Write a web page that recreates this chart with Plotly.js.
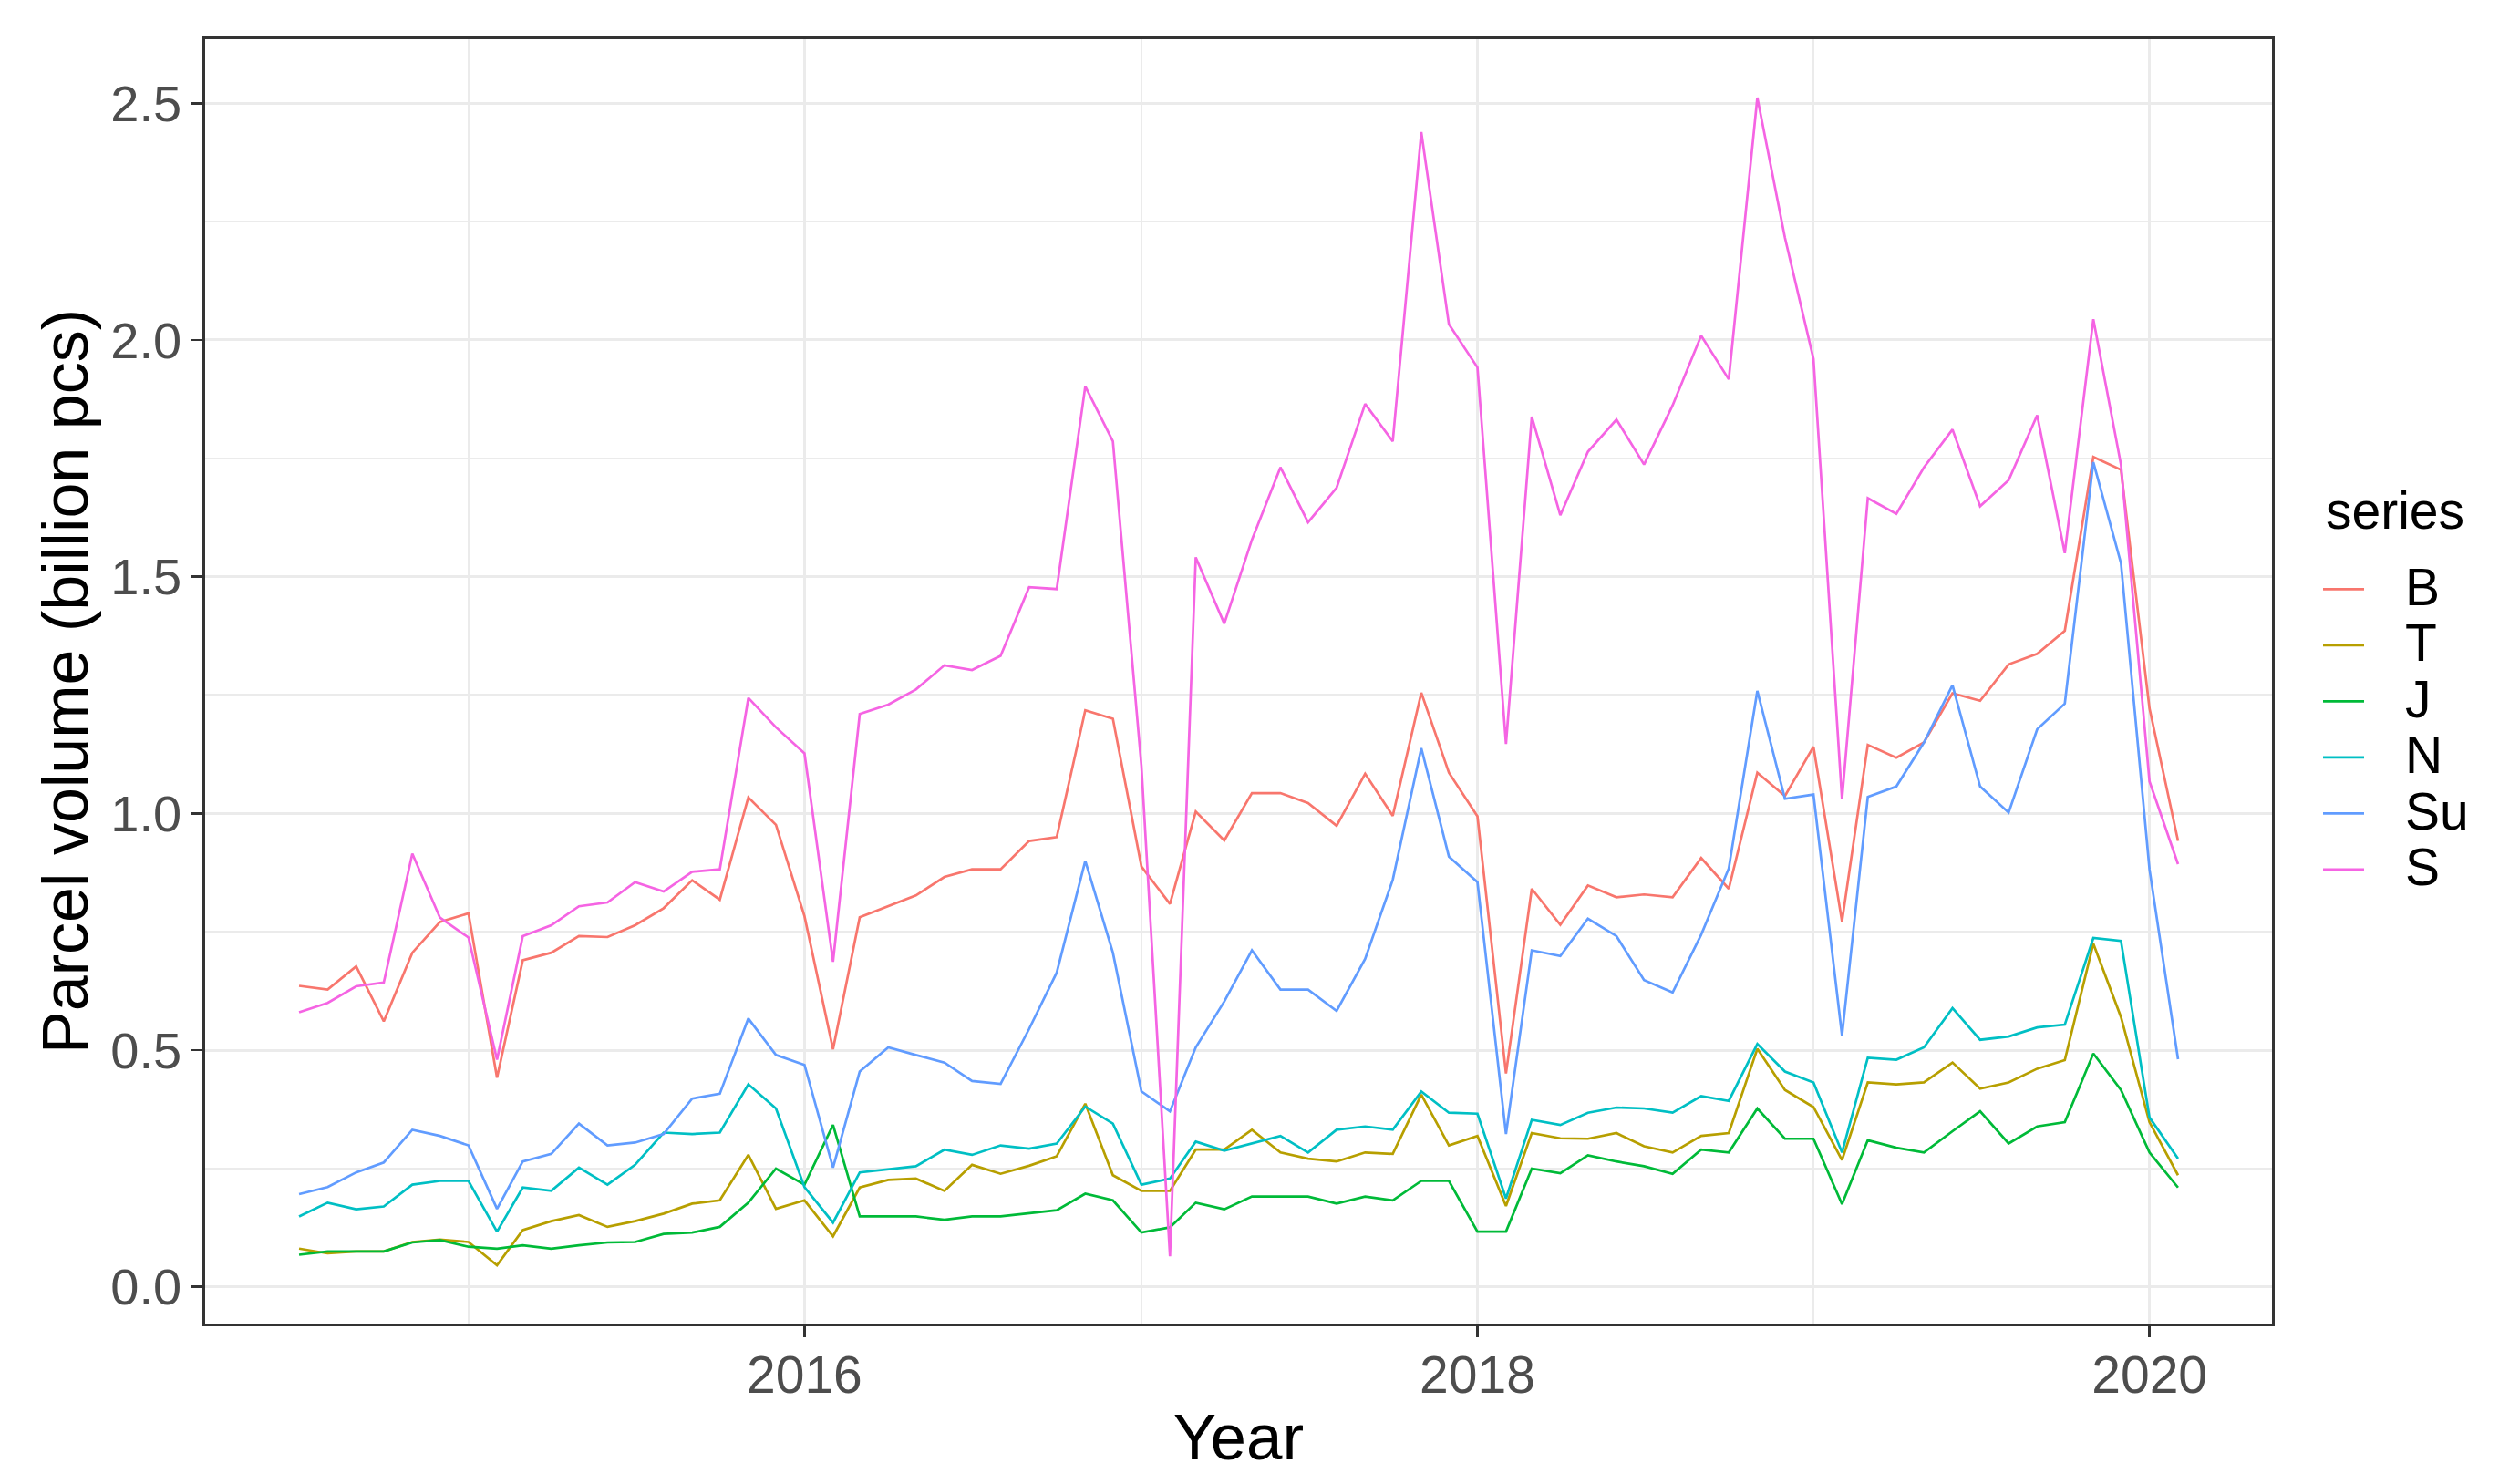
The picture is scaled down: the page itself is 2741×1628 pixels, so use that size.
<!DOCTYPE html>
<html>
<head>
<meta charset="utf-8">
<script src="https://cdn.plot.ly/plotly-3.0.1.min.js"></script>
<style>
html, body { margin: 0; padding: 0; background: #ffffff; }
#chart { width: 2741px; height: 1628px; }
</style>
</head>
<body>
<div id="chart"></div>
<script>
// ---- data (monthly, billion pcs) ----
const months = [
  "2014-07-01","2014-08-01","2014-09-01","2014-10-01","2014-11-01","2014-12-01",
  "2015-01-01","2015-02-01","2015-03-01","2015-04-01","2015-05-01","2015-06-01",
  "2015-07-01","2015-08-01","2015-09-01","2015-10-01","2015-11-01","2015-12-01",
  "2016-01-01","2016-02-01","2016-03-01","2016-04-01","2016-05-01","2016-06-01",
  "2016-07-01","2016-08-01","2016-09-01","2016-10-01","2016-11-01","2016-12-01",
  "2017-01-01","2017-02-01","2017-03-01","2017-04-01","2017-05-01","2017-06-01",
  "2017-07-01","2017-08-01","2017-09-01","2017-10-01","2017-11-01","2017-12-01",
  "2018-01-01","2018-02-01","2018-03-01","2018-04-01","2018-05-01","2018-06-01",
  "2018-07-01","2018-08-01","2018-09-01","2018-10-01","2018-11-01","2018-12-01",
  "2019-01-01","2019-02-01","2019-03-01","2019-04-01","2019-05-01","2019-06-01",
  "2019-07-01","2019-08-01","2019-09-01","2019-10-01","2019-11-01","2019-12-01",
  "2020-01-01","2020-02-01"
];

const seriesNames = ["B", "T", "J", "N", "Su", "S"];

const B = [0.636,0.628,0.677,0.561,0.706,0.771,
  0.789,0.442,0.690,0.706,0.741,0.739,0.764,0.800,0.859,0.818,1.034,0.976,
  0.783,0.502,0.781,0.804,0.827,0.866,0.882,0.882,0.942,0.950,1.218,1.200,
  0.888,0.809,1.004,0.943,1.043,1.043,1.022,0.974,1.084,0.995,1.255,1.086,
  0.994,0.451,0.841,0.765,0.848,0.823,0.829,0.823,0.906,0.841,1.086,1.037,
  1.141,0.772,1.145,1.118,1.150,1.254,1.238,1.315,1.337,1.386,1.753,1.726,
  1.222,0.942];

const T = [0.081,0.071,0.075,0.075,0.095,0.100,
  0.095,0.046,0.120,0.139,0.152,0.127,0.139,0.155,0.176,0.183,0.279,0.165,
  0.183,0.107,0.210,0.226,0.229,0.203,0.258,0.239,0.256,0.276,0.387,0.236,
  0.203,0.203,0.290,0.290,0.332,0.284,0.271,0.265,0.284,0.281,0.406,0.299,
  0.319,0.171,0.325,0.314,0.313,0.325,0.297,0.284,0.319,0.325,0.503,0.416,
  0.380,0.268,0.432,0.428,0.432,0.474,0.419,0.432,0.461,0.479,0.725,0.570,
  0.348,0.236];

const J = [0.068,0.075,0.075,0.075,0.094,0.099,
  0.085,0.081,0.088,0.081,0.088,0.094,0.095,0.112,0.115,0.127,0.178,0.250,
  0.216,0.342,0.149,0.149,0.149,0.142,0.149,0.149,0.155,0.162,0.197,0.183,
  0.115,0.126,0.178,0.164,0.191,0.191,0.191,0.176,0.191,0.183,0.224,0.224,
  0.117,0.117,0.250,0.240,0.278,0.265,0.255,0.239,0.290,0.284,0.377,0.313,
  0.313,0.175,0.310,0.294,0.284,0.329,0.371,0.303,0.339,0.348,0.493,0.416,
  0.284,0.210];

const N = [0.149,0.178,0.164,0.170,0.216,0.224,
  0.224,0.117,0.210,0.203,0.252,0.216,0.258,0.326,0.323,0.326,0.428,0.377,
  0.211,0.136,0.242,0.249,0.255,0.290,0.279,0.299,0.292,0.303,0.381,0.345,
  0.216,0.229,0.307,0.288,0.303,0.319,0.284,0.332,0.339,0.332,0.413,0.368,
  0.366,0.187,0.353,0.342,0.368,0.379,0.377,0.368,0.403,0.393,0.513,0.455,
  0.432,0.284,0.484,0.480,0.506,0.589,0.522,0.529,0.548,0.554,0.737,0.731,
  0.358,0.271];

const Su = [0.196,0.211,0.242,0.263,0.332,0.319,
  0.299,0.165,0.265,0.281,0.345,0.299,0.305,0.323,0.398,0.408,0.567,0.490,
  0.469,0.252,0.455,0.506,0.490,0.474,0.435,0.429,0.545,0.664,0.900,0.706,
  0.413,0.371,0.506,0.603,0.711,0.628,0.628,0.583,0.693,0.860,1.138,0.909,
  0.855,0.323,0.711,0.699,0.778,0.741,0.648,0.622,0.744,0.884,1.259,1.031,
  1.040,0.531,1.035,1.057,1.150,1.271,1.057,1.002,1.178,1.232,1.742,1.529,
  0.882,0.481];

const S = [0.580,0.600,0.635,0.643,0.915,0.780,
  0.738,0.480,0.741,0.764,0.804,0.812,0.855,0.835,0.877,0.882,1.244,1.182,
  1.127,0.687,1.210,1.230,1.262,1.313,1.303,1.333,1.478,1.474,1.902,1.786,
  1.100,0.065,1.541,1.401,1.578,1.731,1.615,1.688,1.865,1.786,2.439,2.033,
  1.942,1.147,1.838,1.630,1.764,1.832,1.737,1.862,2.009,1.917,2.512,2.216,
  1.960,1.030,1.666,1.633,1.731,1.811,1.649,1.704,1.841,1.550,2.044,1.737,
  1.068,0.893];

const seriesValues = [B, T, J, N, Su, S];
const seriesColors = ["#F8766D", "#B79F00", "#00BA38", "#00BFC4", "#619CFF", "#F564E3"];

const xTickVals = ["2016-01-01", "2018-01-01", "2020-01-01"];
const xTickText = ["2016", "2018", "2020"];
const legendTitle = "series";

// ---- ggplot-like 5% expansion of the data range ----
const tms = months.map(d => Date.parse(d + "T00:00:00Z"));
const tMin = Math.min(...tms), tMax = Math.max(...tms);
const tPad = 0.05 * (tMax - tMin);
const fmt = ms => new Date(ms).toISOString().slice(0, 19).replace("T", " ");
const xRange = [fmt(tMin - tPad), fmt(tMax + tPad)];

const allV = seriesValues.flat();
const vMin = Math.min(...allV), vMax = Math.max(...allV);
const vPad = 0.05 * (vMax - vMin);
const yRange = [vMin - vPad, vMax + vPad];

const LEG_TEXT = 57;
const traces = seriesNames.map((name, i) => ({
  type: "scatter",
  mode: "lines",
  name: '<span style="font-size:' + LEG_TEXT + 'px">\u2002\u2009' + name + '</span>',
  x: months,
  y: seriesValues[i],
  line: { color: seriesColors[i], width: 2.7 },
  hoverinfo: "skip"
}));

const FONT = "Liberation Sans, Arial, sans-serif";

const layout = {
  width: 2741,
  height: 1628,
  paper_bgcolor: "#ffffff",
  plot_bgcolor: "#ffffff",
  margin: { l: 225, r: 249, t: 43, b: 176, pad: 0 },
  font: { family: FONT, color: "#000000" },
  showlegend: true,
  legend: {
    x: 1.0225, xanchor: "left",
    y: 0.4627, yanchor: "middle",
    bgcolor: "rgba(0,0,0,0)",
    borderwidth: 0,
    font: { family: FONT, size: 45, color: "#000000" },
    itemwidth: 45,
    tracegroupgap: 0
  },
  annotations: [{
    text: legendTitle,
    xref: "paper", yref: "paper",
    x: 1.0250, xanchor: "left",
    y: 0.633, yanchor: "middle",
    showarrow: false,
    font: { family: FONT, size: 57, color: "#000000" }
  }],
  xaxis: {
    type: "date",
    range: xRange,
    autorange: false,
    tickmode: "array",
    tickvals: xTickVals,
    ticktext: xTickText,
    ticks: "outside",
    ticklen: 12,
    tickwidth: 2.7,
    tickcolor: "#333333",
    ticklabelstandoff: -7,
    tickfont: { family: FONT, size: 57, color: "#4D4D4D" },
    showgrid: true,
    gridcolor: "#EBEBEB",
    gridwidth: 3,
    minor: { dtick: "M12", tick0: "2015-01-01", showgrid: true, gridcolor: "#EBEBEB", gridwidth: 2.2 },
    showline: true,
    linecolor: "#333333",
    linewidth: 2.7,
    mirror: true,
    zeroline: false,
    automargin: false,
    title: { text: "Year", font: { family: FONT, size: 71, color: "#000000" }, standoff: 13 }
  },
  yaxis: {
    range: yRange,
    autorange: false,
    tick0: 0,
    dtick: 0.5,
    tickformat: ".1f",
    ticks: "outside",
    ticklen: 12,
    tickwidth: 2.7,
    tickcolor: "#333333",
    tickfont: { family: FONT, size: 56, color: "#4D4D4D" },
    showgrid: true,
    gridcolor: "#EBEBEB",
    gridwidth: 3,
    minor: { dtick: 0.25, tick0: 0, showgrid: true, gridcolor: "#EBEBEB", gridwidth: 2.2 },
    showline: true,
    linecolor: "#333333",
    linewidth: 2.7,
    mirror: true,
    zeroline: false,
    automargin: false,
    title: { text: "Parcel volume (billion pcs)", font: { family: FONT, size: 70, color: "#000000" }, standoff: 2 }
  }
};

Plotly.newPlot("chart", traces, layout, { displayModeBar: false, staticPlot: true });
</script>
</body>
</html>
